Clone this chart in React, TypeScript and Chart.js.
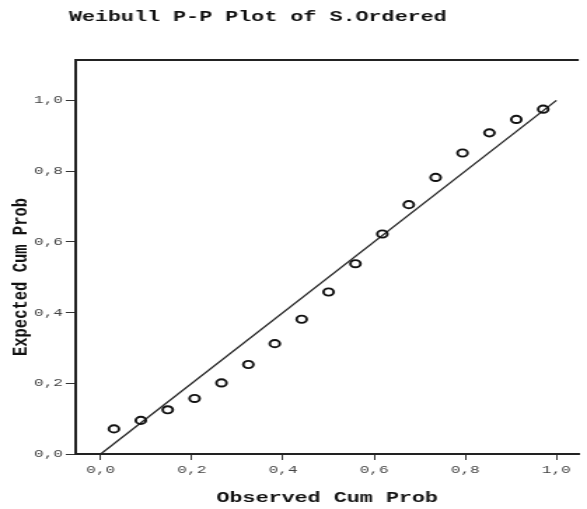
import React, { useEffect, useRef } from "react";
import { Chart, registerables } from "chart.js";

Chart.register(...registerables);

const TITLE = "Weibull P-P Plot of S.Ordered";
const X_TITLE = "Observed Cum Prob";
const Y_TITLE = "Expected Cum Prob";
const TICKS = [0, 0.2, 0.4, 0.6, 0.8, 1.0];

const OBSERVED = [0.029, 0.088, 0.147, 0.206, 0.265, 0.324, 0.382, 0.441, 0.5, 0.559, 0.618, 0.676, 0.735, 0.794, 0.853, 0.912, 0.971];
const EXPECTED = [0.071, 0.095, 0.125, 0.157, 0.201, 0.253, 0.312, 0.381, 0.458, 0.538, 0.622, 0.705, 0.782, 0.851, 0.908, 0.946, 0.975];

const REF_X = [0, 1];
const REF_Y = [0, 1];

const LOGICAL_W = 419;
const H = 509;
const STRETCH = 587 / LOGICAL_W;

const MONO = "'Liberation Mono', 'DejaVu Sans Mono', monospace";

const fmt = (v: number) => Number(v).toFixed(1).replace(".", ",");

const decor = {
  id: "decor",
  afterDraw(chart: any) {
    const { ctx, chartArea } = chart;
    ctx.save();
    ctx.strokeStyle = "#222";
    ctx.lineWidth = 2;
    ctx.beginPath();
    ctx.moveTo(chartArea.left - 1, chartArea.top);
    ctx.lineTo(chartArea.right, chartArea.top);
    ctx.stroke();

    ctx.fillStyle = "#111";
    ctx.font = `bold 15.5px ${MONO}`;
    ctx.textAlign = "center";
    ctx.textBaseline = "middle";
    ctx.fillText(TITLE, 184, 17);

    ctx.translate(15, 277);
    ctx.rotate(-Math.PI / 2);
    ctx.fillText(Y_TITLE, 0, 0);
    ctx.restore();
  },
};

export default function App() {
  const ref = useRef<HTMLCanvasElement | null>(null);

  useEffect(() => {
    if (!ref.current) return;
    const tickFont = { family: MONO, size: 11.5 };
    const chart = new Chart(ref.current, {
      type: "scatter",
      data: {
        datasets: [
          {
            label: "Observed",
            data: OBSERVED.map((x, i) => ({ x, y: EXPECTED[i] })),
            pointStyle: "circle",
            pointRadius: 3.6,
            pointBorderWidth: 1.9,
            borderColor: "#111",
            pointBorderColor: "#111",
            pointBackgroundColor: "rgba(255,255,255,0)",
            backgroundColor: "rgba(255,255,255,0)",
            showLine: false,
          },
          {
            label: "Reference",
            data: REF_X.map((x, i) => ({ x, y: REF_Y[i] })),
            showLine: true,
            borderColor: "#222",
            borderWidth: 1.3,
            pointRadius: 0,
            fill: false,
          },
        ],
      },
      options: {
        responsive: false,
        animation: false,
        devicePixelRatio: 1,
        layout: { padding: { top: 60, right: 0, bottom: 0, left: 0 } },
        plugins: {
          legend: { display: false },
          tooltip: { enabled: false },
          title: { display: false },
        },
        scales: {
          x: {
            type: "linear",
            min: -0.055,
            max: 1.049,
            afterBuildTicks: (axis: any) => {
              axis.ticks = TICKS.map((value) => ({ value }));
            },
            afterFit: (s: any) => {
              s.height = 55;
            },
            ticks: {
              callback: (v: any) => fmt(v),
              font: tickFont,
              color: "#444",
              padding: 3,
              maxRotation: 0,
              autoSkip: false,
            },
            grid: {
              display: true,
              drawOnChartArea: false,
              drawTicks: true,
              tickLength: 6,
              color: "#333",
              tickColor: "#333",
            },
            border: { display: true, color: "#222", width: 2 },
            title: {
              display: true,
              text: X_TITLE,
              font: { family: MONO, size: 15.5, weight: "bold" },
              color: "#111",
              padding: { top: 4, bottom: 2 },
            },
          },
          y: {
            type: "linear",
            min: 0,
            max: 1.114,
            afterBuildTicks: (axis: any) => {
              axis.ticks = TICKS.map((value) => ({ value }));
            },
            afterFit: (s: any) => {
              s.width = 54;
            },
            ticks: {
              callback: (v: any) => fmt(v),
              font: tickFont,
              color: "#444",
              padding: 2,
              autoSkip: false,
            },
            grid: {
              display: true,
              drawOnChartArea: false,
              drawTicks: true,
              tickLength: 7,
              color: "#333",
              tickColor: "#333",
            },
            border: { display: true, color: "#222", width: 2 },
            title: { display: false },
          },
        },
      },
      plugins: [decor],
    } as any);
    return () => chart.destroy();
  }, []);

  return (
    <div
      style={{
        position: "fixed",
        left: 0,
        top: 0,
        width: 587,
        height: H,
        overflow: "hidden",
        background: "#fff",
      }}
    >
      <canvas
        ref={ref}
        width={LOGICAL_W}
        height={H}
        style={{
          width: LOGICAL_W,
          height: H,
          transform: `scaleX(${STRETCH})`,
          transformOrigin: "0 0",
          display: "block",
        }}
      />
    </div>
  );
}
